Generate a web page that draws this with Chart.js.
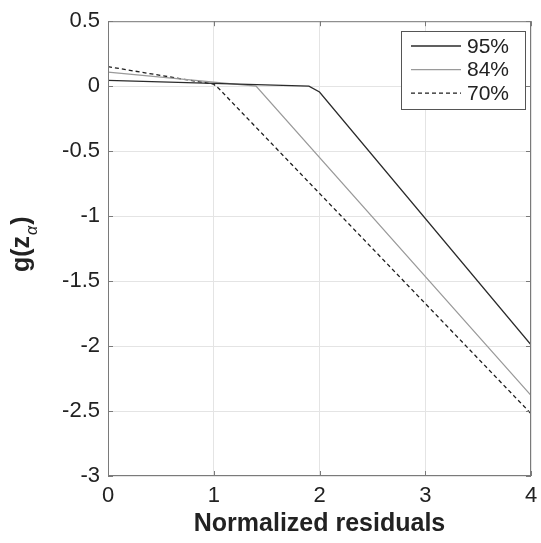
<!DOCTYPE html>
<html lang="en">
<head>
    <meta charset="UTF-8">
    <title>g(z_alpha) vs normalized residuals</title>
    <script src="https://cdn.jsdelivr.net/npm/chart.js"></script>
    <style>
        html, body { margin: 0; padding: 0; background: #fff; }
        #wrap { width: 541px; height: 543px; }
    </style>
</head>
<body>
    <div id="wrap"><canvas id="gChart" width="541" height="543"></canvas></div>
    <script>
        // Curve breakpoints (normalized residual, g value)
        const x95 = [0, 1.9, 2.0, 4];
        const g95 = [0.045, 0.0, -0.045, -1.99];
        const x84 = [0, 1.4, 4];
        const g84 = [0.108, 0.0, -2.38];
        const x70 = [0, 1.0, 1.05, 4];
        const g70 = [0.15, 0.015, -0.02, -2.52];

        const seriesLabels = ['95%', '84%', '70%'];
        const xTicks = [0, 1, 2, 3, 4];
        const yTicks = [0.5, 0, -0.5, -1, -1.5, -2, -2.5, -3];

        const FONT = "'Liberation Sans', Arial, Helvetica, sans-serif";
        const pts = (xs, ys) => xs.map((x, i) => ({ x, y: ys[i] }));

        // box around the axes, inward ticks, legend and the y label with subscript
        const frame = {
            id: 'frame',
            afterDraw(chart) {
                const { ctx, chartArea: a, scales } = chart;
                ctx.save();
                ctx.strokeStyle = '#7a7a7a';
                ctx.lineWidth = 1;
                ctx.strokeRect(a.left + 0.5, a.top + 0.5, a.right - a.left - 1, a.bottom - a.top - 1);

                ctx.beginPath();
                xTicks.forEach(v => {
                    const px = Math.round(scales.x.getPixelForValue(v)) + 0.5;
                    ctx.moveTo(px, a.bottom); ctx.lineTo(px, a.bottom - 5);
                    ctx.moveTo(px, a.top); ctx.lineTo(px, a.top + 5);
                });
                yTicks.forEach(v => {
                    const py = Math.round(scales.y.getPixelForValue(v)) + 0.5;
                    ctx.moveTo(a.left, py); ctx.lineTo(a.left + 5, py);
                    ctx.moveTo(a.right, py); ctx.lineTo(a.right - 5, py);
                });
                ctx.stroke();

                // legend
                const bx = 401, by = 31, bw = 124, bh = 78;
                ctx.fillStyle = '#fff';
                ctx.fillRect(bx, by, bw, bh);
                ctx.strokeStyle = '#555';
                ctx.strokeRect(bx + 0.5, by + 0.5, bw, bh);
                chart.data.datasets.forEach((ds, i) => {
                    const y = 46 + i * 23.6;
                    ctx.beginPath();
                    ctx.strokeStyle = ds.borderColor;
                    ctx.lineWidth = ds.borderWidth;
                    ctx.setLineDash(ds.borderDash || []);
                    ctx.moveTo(411, y); ctx.lineTo(461, y);
                    ctx.stroke();
                    ctx.setLineDash([]);
                    ctx.fillStyle = '#222';
                    ctx.font = '21px ' + FONT;
                    ctx.textBaseline = 'middle';
                    ctx.textAlign = 'left';
                    ctx.fillText(ds.label, 467, y + 1);
                });

                // y axis title: g(z_alpha)
                ctx.translate(29, 272);
                ctx.rotate(-Math.PI / 2);
                ctx.fillStyle = '#222';
                ctx.textBaseline = 'alphabetic';
                ctx.textAlign = 'left';
                ctx.font = 'bold 25px ' + FONT;
                let x = 0;
                ctx.fillText('g(z', x, 0);
                x += ctx.measureText('g(z').width;
                ctx.font = 'italic 16px ' + FONT;
                ctx.fillText('\u03B1', x + 1, 8);
                x += ctx.measureText('\u03B1').width + 2;
                ctx.font = 'bold 25px ' + FONT;
                ctx.fillText(')', x, 0);
                ctx.restore();
            }
        };

        new Chart(document.getElementById('gChart'), {
            type: 'scatter',
            data: {
                datasets: [
                    { label: seriesLabels[0], data: pts(x95, g95), borderColor: '#2b2b2b', borderWidth: 1.3 },
                    { label: seriesLabels[1], data: pts(x84, g84), borderColor: '#9a9a9a', borderWidth: 1.3 },
                    { label: seriesLabels[2], data: pts(x70, g70), borderColor: '#1e1e1e', borderWidth: 1.3, borderDash: [4, 3] }
                ].map(d => Object.assign(d, { showLine: true, pointRadius: 0, fill: false, tension: 0 }))
            },
            options: {
                responsive: false,
                animation: false,
                events: [],
                layout: { padding: { top: 15, right: 10, left: 0, bottom: 0 } },
                plugins: { legend: { display: false }, tooltip: { enabled: false } },
                scales: {
                    x: {
                        type: 'linear', min: 0, max: 4,
                        afterBuildTicks: s => { s.ticks = xTicks.map(v => ({ value: v })); },
                        afterFit: s => { s.height = 67; s.paddingRight = 0; },
                        grid: { color: '#e4e4e4', drawTicks: false },
                        border: { display: false },
                        ticks: { color: '#222', font: { family: FONT, size: 22 }, padding: 7, maxRotation: 0, callback: v => String(v) },
                        title: { display: true, text: 'Normalized residuals', color: '#222', font: { family: FONT, size: 25, weight: 'bold' }, padding: { top: 2 } }
                    },
                    y: {
                        min: -3, max: 0.5,
                        afterBuildTicks: s => { s.ticks = yTicks.map(v => ({ value: v })); },
                        afterFit: s => { s.width = 108; },
                        grid: { color: '#e4e4e4', drawTicks: false },
                        border: { display: false },
                        ticks: { color: '#222', font: { family: FONT, size: 22 }, padding: 8, callback: v => String(v) }
                    }
                }
            },
            plugins: [frame]
        });
    </script>
</body>
</html>
